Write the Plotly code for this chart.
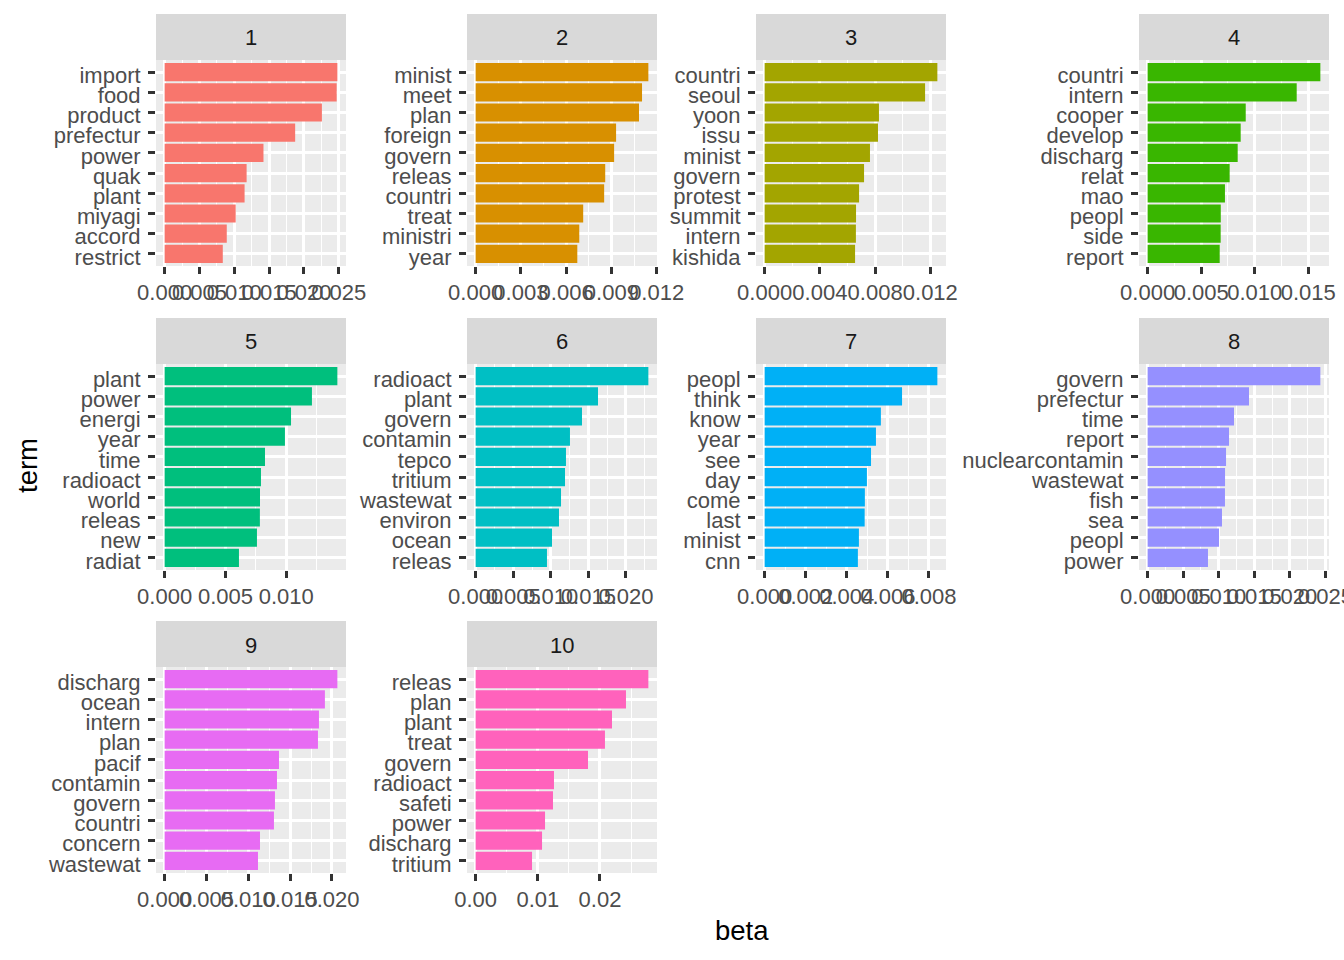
import plotly.graph_objects as go

topics = ["1", "2", "3", "4", "5", "6", "7", "8", "9", "10"]
colors = ["#F8766D", "#D89000", "#A3A500", "#39B600", "#00BF7D",
          "#00BFC4", "#00B0F6", "#9590FF", "#E76BF3", "#FF62BC"]

terms_1 = ["import", "food", "product", "prefectur", "power", "quak", "plant", "miyagi", "accord", "restrict"]
beta_1 = [0.0248, 0.0247, 0.02258, 0.01874, 0.01419, 0.01177, 0.01148, 0.0102, 0.00892, 0.00835]

terms_2 = ["minist", "meet", "plan", "foreign", "govern", "releas", "countri", "treat", "ministri", "year"]
beta_2 = [0.01145, 0.01103, 0.01083, 0.00931, 0.00918, 0.00859, 0.00852, 0.00713, 0.00687, 0.00674]

terms_3 = ["countri", "seoul", "yoon", "issu", "minist", "govern", "protest", "summit", "intern", "kishida"]
beta_3 = [0.01251, 0.01162, 0.00828, 0.00821, 0.00763, 0.0072, 0.00684, 0.00662, 0.00661, 0.00655]

terms_4 = ["countri", "intern", "cooper", "develop", "discharg", "relat", "mao", "peopl", "side", "report"]
beta_4 = [0.01613, 0.01392, 0.00916, 0.00869, 0.00841, 0.00766, 0.00722, 0.00683, 0.00682, 0.00673]

terms_5 = ["plant", "power", "energi", "year", "time", "radioact", "world", "releas", "new", "radiat"]
beta_5 = [0.0142, 0.01211, 0.01039, 0.00989, 0.00825, 0.00792, 0.00784, 0.00783, 0.00759, 0.00611]

terms_6 = ["radioact", "plant", "govern", "contamin", "tepco", "tritium", "wastewat", "environ", "ocean", "releas"]
beta_6 = [0.02298, 0.01628, 0.01415, 0.01255, 0.01202, 0.01189, 0.01136, 0.01109, 0.01016, 0.00949]

terms_7 = ["peopl", "think", "know", "year", "see", "day", "come", "last", "minist", "cnn"]
beta_7 = [0.00841, 0.00669, 0.00566, 0.00542, 0.00518, 0.00498, 0.00488, 0.00487, 0.00459, 0.00454]

terms_8 = ["govern", "prefectur", "time", "report", "nuclearcontamin", "wastewat", "fish", "sea", "peopl", "power"]
beta_8 = [0.0243, 0.01426, 0.01215, 0.01145, 0.01103, 0.01089, 0.01088, 0.01046, 0.01004, 0.00849]

terms_9 = ["discharg", "ocean", "intern", "plan", "pacif", "contamin", "govern", "countri", "concern", "wastewat"]
beta_9 = [0.02065, 0.01916, 0.01845, 0.01833, 0.01367, 0.01343, 0.01319, 0.01307, 0.0114, 0.01116]

terms_10 = ["releas", "plan", "plant", "treat", "govern", "radioact", "safeti", "power", "discharg", "tritium"]
beta_10 = [0.02778, 0.02418, 0.02193, 0.0208, 0.01807, 0.0126, 0.01244, 0.01116, 0.01068, 0.00907]

tick_steps = [0.005, 0.003, 0.004, 0.005, 0.005, 0.005, 0.002, 0.005, 0.005, 0.01]
tick_formats = [".3f"] * 9 + [".2f"]

all_terms = [terms_1, terms_2, terms_3, terms_4, terms_5, terms_6, terms_7, terms_8, terms_9, terms_10]
all_beta = [beta_1, beta_2, beta_3, beta_4, beta_5, beta_6, beta_7, beta_8, beta_9, beta_10]

# layout geometry (pixels)
W, H = 1344, 960
col_left = [156, 467, 756, 1139]
panel_w = 190
row_top = [14, 318, 621]
strip_h = 46
panel_h = 206

FONT = "Liberation Sans, Arial, sans-serif"
TICK_FONT = dict(family=FONT, size=22, color="#4D4D4D")
LINE_W = 2.67

fig = go.Figure()
shapes = []
annotations = []
layout = {}

for i in range(10):
    r, c = divmod(i, 4)
    n = i + 1
    xa = "x" if n == 1 else f"x{n}"
    ya = "y" if n == 1 else f"y{n}"
    xkey = "xaxis" if n == 1 else f"xaxis{n}"
    ykey = "yaxis" if n == 1 else f"yaxis{n}"

    x0 = col_left[c]
    x1 = x0 + panel_w
    st = row_top[r]
    pt = st + strip_h
    pb = pt + panel_h

    terms = all_terms[i]
    vals = all_beta[i]
    vmax = max(vals)

    fig.add_trace(go.Bar(
        x=vals, y=terms, orientation="h", width=0.9,
        marker=dict(color=colors[i], line=dict(width=0)),
        xaxis=xa, yaxis=ya, showlegend=False,
    ))

    step = tick_steps[i]
    layout[xkey] = dict(
        domain=[x0 / W, x1 / W], anchor=ya,
        range=[-0.05 * vmax, 1.05 * vmax],
        tickmode="linear", tick0=0, dtick=step, tickformat=tick_formats[i],
        tickangle=0, ticks="outside", ticklen=7, tickwidth=LINE_W, tickcolor="#333333",
        tickfont=TICK_FONT, ticklabelstandoff=0, ticklabeloverflow="allow",
        showgrid=True, gridcolor="white", gridwidth=LINE_W,
        minor=dict(tick0=0, dtick=step / 2, showgrid=True, gridcolor="white",
                   gridwidth=1.33, ticks=""),
        zeroline=False, showline=False, automargin=False, fixedrange=True,
    )
    layout[ykey] = dict(
        domain=[1 - pb / H, 1 - pt / H], anchor=xa,
        type="category", categoryorder="array", categoryarray=list(reversed(terms)),
        tickmode="array", tickvals=terms, ticktext=terms,
        range=[-0.6, 9.6],
        ticks="outside", ticklen=7, tickwidth=LINE_W, tickcolor="#333333",
        tickfont=TICK_FONT, ticklabelstandoff=3, ticklabelshift=3,
        showgrid=True, gridcolor="white", gridwidth=LINE_W,
        zeroline=False, showline=False, automargin=False, fixedrange=True,
    )

    shapes.append(dict(type="rect", xref="paper", yref="paper",
                       x0=x0 / W, x1=x1 / W, y0=1 - pt / H, y1=1 - st / H,
                       fillcolor="#D9D9D9", line=dict(width=0), layer="below"))
    annotations.append(dict(text=topics[i], xref="paper", yref="paper",
                            x=(x0 + x1) / 2 / W, y=1 - (st + strip_h / 2 + 1) / H,
                            xanchor="center", yanchor="middle", showarrow=False,
                            font=dict(family=FONT, size=22, color="#1A1A1A")))

annotations.append(dict(text="beta", xref="paper", yref="paper",
                        x=742.5 / W, y=1 - 930 / H, xanchor="center", yanchor="middle",
                        showarrow=False, font=dict(family=FONT, size=27.5, color="black")))
annotations.append(dict(text="term", xref="paper", yref="paper",
                        x=28 / W, y=1 - 466 / H, xanchor="center", yanchor="middle",
                        textangle=-90, showarrow=False,
                        font=dict(family=FONT, size=27.5, color="black")))

fig.update_layout(
    width=W, height=H,
    margin=dict(l=0, r=0, t=0, b=0),
    paper_bgcolor="white", plot_bgcolor="#EBEBEB",
    shapes=shapes, annotations=annotations,
    showlegend=False, bargap=0.1,
    **layout,
)

fig.write_html("out.html", config={"displayModeBar": False})
